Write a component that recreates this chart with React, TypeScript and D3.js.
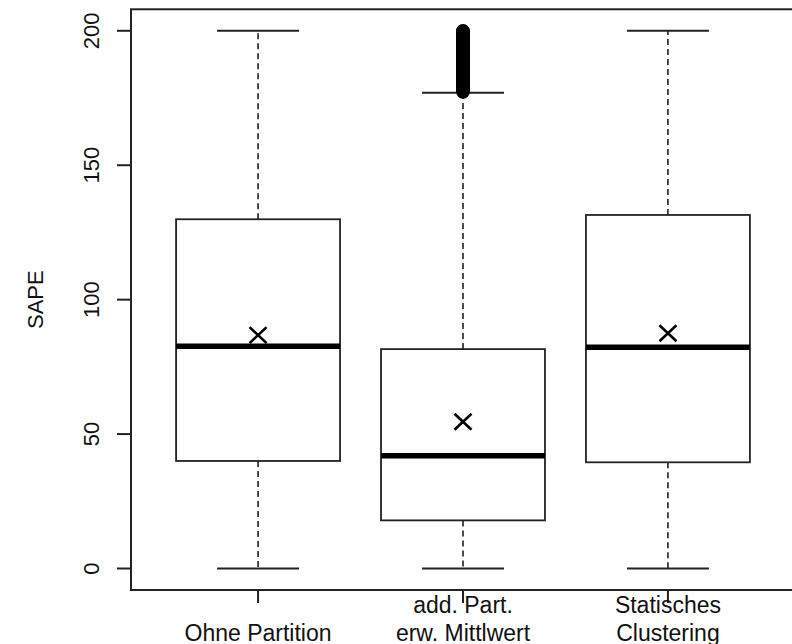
import React from "react";
import * as d3 from "d3";

const categories = ["Ohne Partition", "add. Part.\nerw. Mittlwert", "Statisches\nClustering"];
const whiskerLow = [0, 0, 0];
const q1 = [40, 17.9, 39.5];
const medians = [82.7, 41.9, 82.3];
const q3 = [129.9, 81.6, 131.5];
const whiskerHigh = [200, 177, 200];
const means = [86.8, 54.6, 87.5];
const outliers2 = [
  177.3, 177.8, 178.2, 178.7, 179.1, 179.6, 180.0, 180.5, 181.0, 181.4, 181.9, 182.3,
  182.8, 183.3, 183.7, 184.2, 184.6, 185.1, 185.6, 186.0, 186.5, 186.9, 187.4, 187.9,
  188.3, 188.8, 189.2, 189.7, 190.2, 190.6, 191.1, 191.5, 192.0, 192.5, 192.9, 193.4,
  193.8, 194.3, 194.8, 195.2, 195.7, 196.1, 196.6, 197.1, 197.5, 198.0, 198.4, 198.9,
  199.4, 199.8, 200.0,
];
const yTicks = [0, 50, 100, 150, 200];
const yLabel = "SAPE";

export default function App() {
  const W = 792;
  const H = 644;
  const x = d3.scaleLinear().domain([0.38, 3.62]).range([131, 795]);
  const y = d3.scaleLinear().domain([0, 200]).range([568.5, 30.8]);
  const frameTop = y(208);
  const frameBottom = y(-8);
  const boxHalf = 0.4;
  const capHalf = 0.2;
  const font = "'Liberation Sans', Arial, Helvetica, sans-serif";
  const bw = x(1 + boxHalf) - x(1);
  const cw = x(1 + capHalf) - x(1);

  return (
    <svg
      width={W}
      height={H}
      style={{ position: "absolute", left: 0, top: 0, background: "#fff" }}
      fontFamily={font}
    >
      <rect x={0} y={0} width={W} height={H} fill="#fff" />
      {/* boxes */}
      {categories.map((c, i) => {
        const cx = x(i + 1);
        return (
          <g key={c}>
            <line x1={cx} x2={cx} y1={y(q3[i])} y2={y(whiskerHigh[i])} stroke="#111" strokeWidth={1.5} strokeDasharray="6,4" />
            <line x1={cx} x2={cx} y1={y(q1[i])} y2={y(whiskerLow[i])} stroke="#111" strokeWidth={1.5} strokeDasharray="6,4" />
            <line x1={cx - cw} x2={cx + cw} y1={y(whiskerHigh[i])} y2={y(whiskerHigh[i])} stroke="#222" strokeWidth={2} />
            <line x1={cx - cw} x2={cx + cw} y1={y(whiskerLow[i])} y2={y(whiskerLow[i])} stroke="#222" strokeWidth={2} />
            <rect x={cx - bw} y={y(q3[i])} width={2 * bw} height={y(q1[i]) - y(q3[i])} fill="#fff" stroke="#222" strokeWidth={1.8} />
            <line x1={cx - bw} x2={cx + bw} y1={y(medians[i])} y2={y(medians[i])} stroke="#000" strokeWidth={5.5} />
            <path
              d={`M${cx - 8.5},${y(means[i]) - 8}L${cx + 8.5},${y(means[i]) + 8}M${cx - 8.5},${y(means[i]) + 8}L${cx + 8.5},${y(means[i]) - 8}`}
              stroke="#000"
              strokeWidth={2.6}
              fill="none"
            />
          </g>
        );
      })}
      {outliers2.map((v, k) => (
        <circle key={k} cx={x(2)} cy={y(v)} r={5.3} fill="none" stroke="#000" strokeWidth={3.2} />
      ))}
      {/* frame */}
      <rect x={x(0.38)} y={frameTop} width={x(3.62) - x(0.38)} height={frameBottom - frameTop} fill="none" stroke="#222" strokeWidth={2} />
      {/* y axis */}
      {yTicks.map((t) => (
        <g key={t}>
          <line x1={117} x2={131} y1={y(t)} y2={y(t)} stroke="#222" strokeWidth={2} />
          <text
            transform={`translate(98.5,${y(t)}) rotate(-90)`}
            textAnchor="middle"
            fontSize={22}
            fill="#111"
          >
            {t}
          </text>
        </g>
      ))}
      <text transform={`translate(43,${y(100)}) rotate(-90)`} textAnchor="middle" fontSize={22} fill="#111">
        {yLabel}
      </text>
      {/* x axis */}
      {categories.map((c, i) => {
        const cx = x(i + 1);
        const lines = c.split("\n");
        return (
          <g key={c}>
            <line x1={cx} x2={cx} y1={frameBottom} y2={603} stroke="#222" strokeWidth={2} />
            {lines.map((l, j) => (
              <text key={j} x={cx} y={641 - (lines.length - 1 - j) * 28} textAnchor="middle" fontSize={23} fill="#111">
                {l}
              </text>
            ))}
          </g>
        );
      })}
    </svg>
  );
}
